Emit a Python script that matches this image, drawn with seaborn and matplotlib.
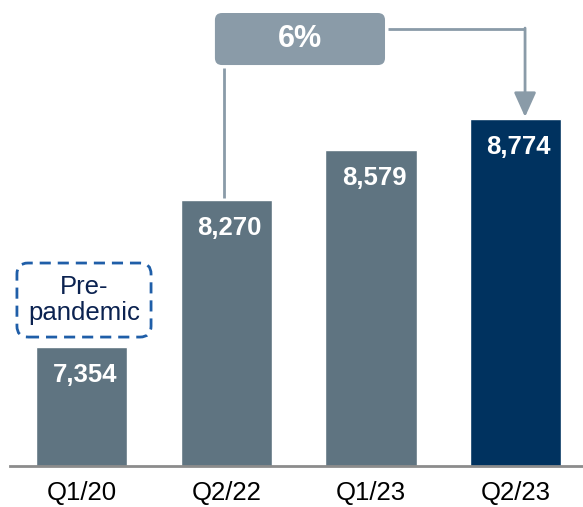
import matplotlib
matplotlib.use("Agg")
import matplotlib.pyplot as plt
from matplotlib.patches import FancyBboxPatch
import seaborn as sns
import pandas as pd

# Quarterly figures
quarters = ["Q1/20", "Q2/22", "Q1/23", "Q2/23"]
values = [7354, 8270, 8579, 8774]
bar_colors = ["#5f7481", "#5f7481", "#5f7481", "#00325f"]
growth_label = "6%"
note_label = "Pre-\npandemic"

df = pd.DataFrame({"quarter": quarters, "value": values})

sns.set_theme(style="white")
plt.rcParams["font.family"] = ["Liberation Sans", "DejaVu Sans"]

W, H, DPI = 583, 507, 100
fig = plt.figure(figsize=(W / DPI, H / DPI), dpi=DPI)
ax = fig.add_axes([10 / W, 41 / H, 573 / W, 466 / H])

sns.barplot(data=df, x="quarter", y="value", hue="quarter",
            palette=bar_colors, width=0.63, legend=False, ax=ax,
            saturation=1)

ymin, ymax = 6613, 9515
ax.set_ylim(ymin, ymax)
ax.set_xlim(-0.498, 3.467)

for s in ["top", "right", "left"]:
    ax.spines[s].set_visible(False)
ax.spines["bottom"].set_color("#8c8c8c")
ax.spines["bottom"].set_linewidth(2)
ax.set_yticks([])
ax.set_xlabel("")
ax.set_ylabel("")
ax.tick_params(axis="x", length=0, pad=11, labelsize=18.5, colors="black")

# value labels inside the bars
for i, v in enumerate(values):
    ax.text(i + 0.02, v - 175, f"{v:,}", ha="center", va="center",
            color="white", fontsize=18.5, fontweight="bold")

# pixel -> data scale factors
px_x = 1 / 144.5
px_y = (ymax - ymin) / 466
aspect = px_y / px_x

# growth box
gx0, gx1 = 0.920, 2.097
gy0, gy1 = 9110, 9434
box = FancyBboxPatch((gx0, gy0), gx1 - gx0, gy1 - gy0,
                     boxstyle=f"round,pad=0,rounding_size={7 * px_x}",
                     mutation_aspect=aspect, facecolor="#8a9ba8",
                     edgecolor="none", zorder=3)
ax.add_patch(box)
ax.text((gx0 + gx1) / 2, (gy0 + gy1) / 2, growth_label, ha="center",
        va="center", color="white", fontsize=22, fontweight="bold", zorder=4)

# connector from Q2/22 to the box, and from the box down to Q2/23
line_c = "#8a9ba8"
ax.plot([0.983, 0.983], [values[1] + 15, gy0 - 3 * px_y], color=line_c,
        lw=2, zorder=2, solid_capstyle="butt")
ry = 9334
rx = 3.066
ax.plot([gx1 + 3 * px_x, rx], [ry, ry], color=line_c, lw=2, zorder=2,
        solid_capstyle="butt")
ax.annotate("", xy=(rx, values[3] + 2 * px_y), xytext=(rx, ry + 1 * px_y),
            arrowprops=dict(arrowstyle="-|>,head_length=1.0,head_width=0.45",
                            color=line_c, lw=2, shrinkA=0, shrinkB=0,
                            mutation_scale=15),
            zorder=2)

# dashed note box above the first bar
nx0, nx1 = -0.45, 0.478
ny0, ny1 = 7416, 7877
note = FancyBboxPatch((nx0, ny0), nx1 - nx0, ny1 - ny0,
                      boxstyle=f"round,pad=0,rounding_size={11 * px_x}",
                      mutation_aspect=aspect, facecolor="white",
                      edgecolor="#1f5ea8", lw=2, linestyle=(0, (4, 2.5)),
                      zorder=3)
ax.add_patch(note)
ax.text((nx0 + nx1) / 2, (ny0 + ny1) / 2, note_label, ha="center",
        va="center", color="#0b2250", fontsize=18.5, linespacing=1.1,
        zorder=4)

fig.savefig("out.png", dpi=DPI)
